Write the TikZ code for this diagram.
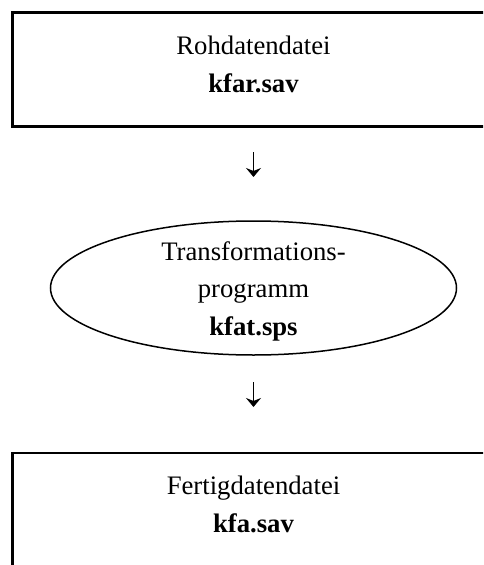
\documentclass[tikz,border=0pt]{standalone}
\usepackage{fontspec}
\setmainfont{Liberation Serif}
\usetikzlibrary{calc}
\usetikzlibrary{arrows.meta}
\usetikzlibrary{shapes.geometric}

\begin{document}
\begin{tikzpicture}[x=1pt,y=-1pt]
        % Define the sizes (1 unit = 1 pixel of the page)
        \def\w{483}  % page width
        \def\h{565}  % page height
        \def\mx{253.5}  % middle of the text column

        \useasboundingbox (0,0) rectangle (\w,\h);
        \clip (0,0) rectangle (\w,\h);

        \tikzset{
            datei/.style={draw, line width=2.2pt, rectangle, minimum width=482pt,
                minimum height=114pt, align=center, inner sep=0pt,
                font=\fontsize{26.7pt}{38pt}\selectfont},
            prog/.style={draw, line width=1.5pt, ellipse, minimum width=406pt,
                minimum height=134pt, align=center, inner sep=0pt,
                font=\fontsize{26.7pt}{37.5pt}\selectfont},
            pfeil/.style={line width=1.5pt, -{Stealth[length=9pt,width=15pt,inset=3pt]}}
        }

        % Draw the files and the program
        \node[datei] (rohdaten) at (\mx, 69.5) {};
        \node[prog] (programm) at (\mx, 288) {};
        \node[datei] (fertig) at (\mx, 510) {};

        % Texts inside
        \node[align=center, font=\fontsize{26.7pt}{38pt}\selectfont] (rohtext)
            at ($(rohdaten.north)+(0,53)$) {Rohdatendatei\\\textbf{kfar.sav}};
        \node[align=center, font=\fontsize{26.7pt}{37.5pt}\selectfont] (progtext)
            at ($(programm.center)+(0,3)$) {Transformations-\\programm\\\textbf{kfat.sps}};
        \node[align=center, font=\fontsize{26.7pt}{38pt}\selectfont] (fertigtext)
            at ($(fertig.north)+(0,53)$) {Fertigdatendatei\\\textbf{kfa.sav}};

        % Draw the arrows
        \coordinate (pfeilA1) at (\mx, 152);
        \coordinate (pfeilA2) at (\mx, 177);
        \coordinate (pfeilB1) at (\mx, 382);
        \coordinate (pfeilB2) at (\mx, 407);
        \draw[pfeil] (pfeilA1) -- (pfeilA2);
        \draw[pfeil] (pfeilB1) -- (pfeilB2);

\end{tikzpicture}
\end{document}
